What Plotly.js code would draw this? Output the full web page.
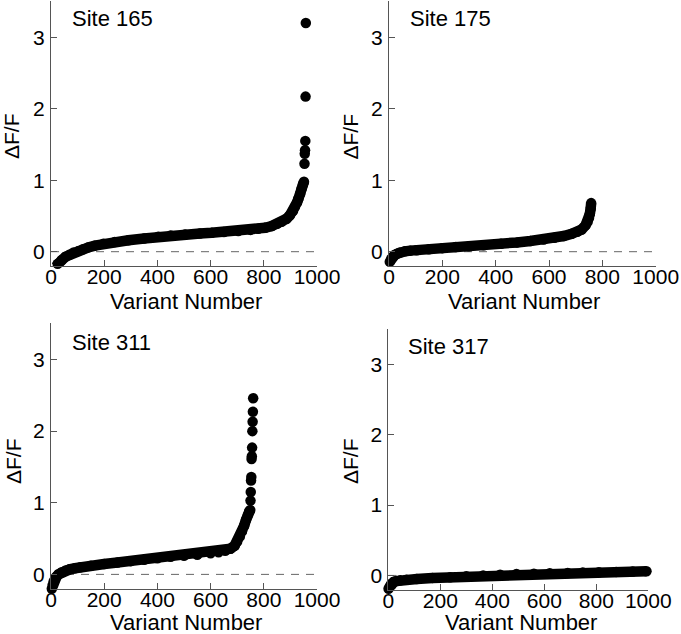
<!DOCTYPE html>
<html>
<head>
<meta charset="utf-8">
<script src="https://cdn.plot.ly/plotly-3.0.1.min.js"></script>
<style>html,body{margin:0;padding:0;background:#fff;}#chart{width:681px;height:634px;}</style>
</head>
<body>
<div id="chart"></div>
<script>
// ---- data (variant number, ΔF/F) ----
const siteNames = ["Site 165", "Site 175", "Site 311", "Site 317"];

const site165_x = [18, 25, 40, 55, 71, 85, 103, 120, 140, 165, 197, 240, 291, 350, 403, 450, 504, 560, 604, 650, 704, 750, 779, 805, 830, 850, 867, 885, 898, 910, 917, 925, 930, 937, 942, 947, 951];
const site165_y = [-0.21, -0.17, -0.12, -0.07, -0.04, -0.01, 0.01, 0.035, 0.06, 0.085, 0.11, 0.135, 0.16, 0.185, 0.21, 0.225, 0.24, 0.255, 0.265, 0.275, 0.29, 0.305, 0.32, 0.335, 0.36, 0.39, 0.42, 0.46, 0.51, 0.57, 0.63, 0.69, 0.74, 0.81, 0.88, 0.94, 0.98];
const site165_outX = [953, 954, 955, 956, 957, 958];
const site165_outY = [1.23, 1.37, 1.42, 1.55, 2.17, 3.20];

const site175_x = [3, 8, 14, 22, 30, 41, 60, 80, 104, 150, 200, 250, 300, 355, 420, 480, 530, 580, 620, 655, 685, 706, 722, 737, 745, 750, 753, 756, 758];
const site175_y = [-0.14, -0.10, -0.07, -0.045, -0.03, -0.01, 0.005, 0.015, 0.02, 0.035, 0.05, 0.065, 0.075, 0.09, 0.11, 0.13, 0.15, 0.17, 0.195, 0.22, 0.25, 0.28, 0.31, 0.37, 0.42, 0.47, 0.53, 0.60, 0.68];
const site175_outX = [];
const site175_outY = [];

const site311_x = [3, 6, 10, 15, 21, 28, 40, 55, 70, 90, 110, 150, 200, 250, 300, 350, 400, 450, 500, 550, 600, 630, 655, 675, 690, 700, 710, 718, 726, 733, 740, 745, 749];
const site311_y = [-0.20, -0.15, -0.10, -0.06, -0.03, 0.0, 0.03, 0.055, 0.07, 0.085, 0.10, 0.12, 0.145, 0.165, 0.185, 0.205, 0.225, 0.245, 0.26, 0.275, 0.295, 0.31, 0.33, 0.36, 0.40, 0.46, 0.53, 0.60, 0.68, 0.76, 0.83, 0.88, 0.90];
const site311_outX = [750, 751, 752, 753, 754, 755, 756, 757, 758, 759, 760];
const site311_outY = [1.03, 1.15, 1.31, 1.36, 1.61, 1.65, 1.77, 2.00, 2.13, 2.27, 2.46];

const site317_x = [1, 5, 10, 14, 22, 32, 46, 70, 110, 170, 238, 300, 365, 430, 493, 560, 621, 690, 748, 810, 876, 940, 993];
const site317_y = [-0.19, -0.16, -0.13, -0.11, -0.09, -0.08, -0.07, -0.06, -0.05, -0.035, -0.025, -0.01, 0.0, 0.01, 0.02, 0.025, 0.03, 0.035, 0.04, 0.045, 0.05, 0.055, 0.06];
const site317_outX = [];
const site317_outY = [];

const xTicks = [0, 200, 400, 600, 800, 1000];
const yTicks = [0, 1, 2, 3];
const xTitle = "Variant Number";
const yTitle = "ΔF/F";

// ---- layout geometry (pixels in a 681x634 page) ----
const W = 681, H = 634;
const panels = [
  {name: siteNames[0], bx: site165_x, by: site165_y, ox: site165_outX, oy: site165_outY, x0: 51, x1: 317, yb: 266.0, yt: 0.8, lab: [70, 18], xt: [186, 302], yt2: [11.5, 136.5]},
  {name: siteNames[1], bx: site175_x, by: site175_y, ox: site175_outX, oy: site175_outY, x0: 389, x1: 655.7, yb: 266.0, yt: 0.8, lab: [408, 18], xt: [524, 302], yt2: [350, 136.5]},
  {name: siteNames[2], bx: site311_x, by: site311_y, ox: site311_outX, oy: site311_outY, x0: 51, x1: 317, yb: 588.7, yt: 323.0, lab: [70, 342], xt: [186, 622], yt2: [13, 461]},
  {name: siteNames[3], bx: site317_x, by: site317_y, ox: site317_outX, oy: site317_outY, x0: 388.3, x1: 648.3, yb: 589.5, yt: 328.5, lab: [406, 346], xt: [521, 622], yt2: [350, 461]}
];

const FONT = "Liberation Sans, Arial, Helvetica, sans-serif";
const traces = [];
const layout = {
  width: W, height: H,
  margin: {l: 0, r: 0, t: 0, b: 0},
  paper_bgcolor: "#ffffff", plot_bgcolor: "#ffffff",
  showlegend: false,
  font: {family: FONT, size: 21, color: "#000"},
  shapes: [], annotations: []
};

panels.forEach((p, i) => {
  const k = i === 0 ? "" : String(i + 1);
  const xa = "x" + k, ya = "y" + k;
  traces.push({
    type: "scatter", mode: "lines+markers", x: p.bx, y: p.by, xaxis: xa, yaxis: ya,
    line: {color: "#000", width: 10.5}, marker: {color: "#000", size: 10.5},
    cliponaxis: false, hoverinfo: "skip"
  });
  if (p.ox.length) {
    traces.push({
      type: "scatter", mode: "markers", x: p.ox, y: p.oy, xaxis: xa, yaxis: ya,
      marker: {color: "#000", size: 10.5}, cliponaxis: false, hoverinfo: "skip"
    });
  }
  layout["xaxis" + k] = {
    domain: [p.x0 / W, p.x1 / W], anchor: ya, range: [0, 1000],
    tickvals: xTicks, ticktext: xTicks.map(String),
    ticks: "inside", ticklen: 6, tickcolor: "#555", tickwidth: 1,
    showline: true, linecolor: "#555", linewidth: 1,
    showgrid: false, zeroline: false, ticklabelstandoff: -8,
    tickfont: {family: FONT, size: 21, color: "#000"}
  };
  layout["yaxis" + k] = {
    domain: [1 - p.yb / H, 1 - p.yt / H], anchor: xa, range: [-0.2, 3.51],
    tickvals: yTicks, ticktext: yTicks.map(String),
    ticks: "inside", ticklen: 6, tickcolor: "#555", tickwidth: 1,
    showline: true, linecolor: "#555", linewidth: 1,
    showgrid: false, zeroline: false, ticklabelstandoff: 1,
    tickfont: {family: FONT, size: 21, color: "#000"}
  };
  layout.shapes.push({
    type: "line", xref: xa, yref: ya, x0: 0, x1: 990, y0: 0, y1: 0,
    line: {color: "#666", width: 1, dash: "8px,7px"}, layer: "below"
  });
  layout.annotations.push({
    text: p.name, xref: "paper", yref: "paper",
    x: p.lab[0] / W, y: 1 - p.lab[1] / H, xanchor: "left", yanchor: "middle",
    showarrow: false, font: {family: FONT, size: 22, color: "#000"}
  });
  layout.annotations.push({
    text: xTitle, xref: "paper", yref: "paper",
    x: p.xt[0] / W, y: 1 - p.xt[1] / H, xanchor: "center", yanchor: "middle",
    showarrow: false, font: {family: FONT, size: 22, color: "#000"}
  });
  layout.annotations.push({
    text: yTitle, xref: "paper", yref: "paper", textangle: -90,
    x: p.yt2[0] / W, y: 1 - p.yt2[1] / H, xanchor: "center", yanchor: "middle",
    showarrow: false, font: {family: FONT, size: 21, color: "#000"}
  });
});

Plotly.newPlot("chart", traces, layout, {staticPlot: true, displayModeBar: false});
</script>
</body>
</html>
